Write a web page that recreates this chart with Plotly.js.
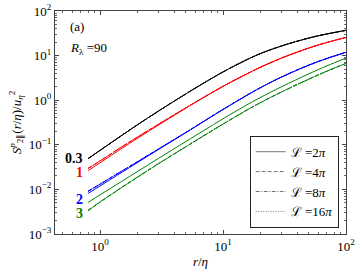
<!DOCTYPE html>
<html><head><meta charset="utf-8">
<script src="https://cdn.plot.ly/plotly-3.0.1.min.js"></script>
<style>html,body{margin:0;padding:0;background:#fff}#c{width:360px;height:271px}</style>
</head><body><div id="c"></div>
<script>
const r = [0.8, 1, 1.5, 2, 3, 5, 7, 10, 15, 20, 30, 50, 70, 100];
// p = 0.3 (black), all box sizes overlap
const s03 = [0.049, 0.075, 0.162, 0.277, 0.575, 1.39, 2.44, 4.3, 7.67, 11.0, 16.5, 24.8, 30.6, 36.8];
// p = 1 (red)
const s1_2pi = [0.0263, 0.0395, 0.0826, 0.138, 0.279, 0.665, 1.16, 2.04, 3.67, 5.42, 8.81, 14.8, 19.7, 25.5];
const s1_big = [0.0295, 0.0435, 0.0895, 0.147, 0.291, 0.676, 1.17, 2.05, 3.68, 5.44, 8.85, 14.85, 19.75, 25.6];
// p = 2 (blue)
const s2_2pi = [0.00813, 0.01194, 0.0240, 0.0394, 0.0791, 0.188, 0.336, 0.617, 1.20, 1.88, 3.31, 6.11, 8.61, 11.8];
const s2_big = [0.0091, 0.0131, 0.0257, 0.0412, 0.0810, 0.190, 0.339, 0.622, 1.21, 1.89, 3.33, 6.14, 8.65, 11.85];
// p = 3 (green)
const s3_2pi = [0.00513, 0.00753, 0.0151, 0.0248, 0.0499, 0.119, 0.210, 0.383, 0.738, 1.14, 2.01, 3.92, 5.9, 8.8];
const s3_4pi = [0.00331, 0.00515, 0.0110, 0.0184, 0.0378, 0.0902, 0.160, 0.290, 0.560, 0.867, 1.53, 2.97, 4.48, 6.67];
const s3_8pi = [0.00340, 0.00524, 0.0111, 0.0187, 0.0383, 0.0912, 0.162, 0.293, 0.565, 0.875, 1.54, 2.99, 4.51, 6.72];
const s3_16pi = [0.00335, 0.00519, 0.0110, 0.0185, 0.0380, 0.0906, 0.161, 0.291, 0.562, 0.870, 1.535, 2.98, 4.49, 6.70];

const xTickVals = [1, 10, 100];
const xTickText = ['10<sup>0</sup>', '10<sup>1</sup>', '10<sup>2</sup>'];
const yTickVals = [0.001, 0.01, 0.1, 1, 10, 100];
const yTickText = ['10<sup>−3</sup>', '10<sup>−2</sup>', '10<sup>−1</sup>', '10<sup>0</sup>', '10<sup>1</sup>', '10<sup>2</sup>'];

const legendNames = ['ℒ =2<i>π</i>', 'ℒ =4<i>π</i>', 'ℒ =8<i>π</i>', 'ℒ =16<i>π</i>'];
const dashes = ['solid', '4px,2px', '4px,1.5px,1px,1.5px', '1px,1.5px'];
const pLabels = ['0.3', '1', '2', '3'];
const colors = ['#000000', '#ff0000', '#0000ff', '#008000'];

const series = [
  [s03, s03, s03, s03],
  [s1_2pi, s1_big, s1_big, s1_big],
  [s2_2pi, s2_big, s2_big, s2_big],
  [s3_2pi, s3_4pi, s3_8pi, s3_16pi]
];

const traces = [];
series.forEach((grp, gi) => {
  grp.forEach((ys, li) => {
    traces.push({x: r, y: ys, type: 'scatter', mode: 'lines', showlegend: false,
      line: {color: colors[gi], width: 1, dash: dashes[li], shape: 'spline', smoothing: 1}, hoverinfo: 'skip'});
  });
});
legendNames.forEach((nm, li) => {
  traces.push({x: [null], y: [null], type: 'scatter', mode: 'lines', name: nm, showlegend: true,
    line: {color: '#777', width: 1, dash: dashes[li]}});
});

const labY = [-1.304, -1.616, -2.22, -2.53];
const annotations = pLabels.map((t, i) => ({
  x: -0.122, y: labY[i], xref: 'x', yref: 'y', text: '<b>' + t + '</b>', showarrow: false,
  xanchor: 'right', yanchor: 'middle', font: {family: 'Liberation Serif', size: 14, color: colors[i]}
}));
annotations.push({x: 0.045, y: 0.93, xref: 'paper', yref: 'paper', text: '(a)', showarrow: false,
  xanchor: 'left', yanchor: 'middle', font: {family: 'Liberation Serif', size: 13, color: '#000'}});
annotations.push({x: 0.045, y: 0.834, xref: 'paper', yref: 'paper', text: '<i>R</i><sub>λ</sub> =90', showarrow: false,
  xanchor: 'left', yanchor: 'middle', font: {family: 'Liberation Serif', size: 13, color: '#000'}});

const axBase = {type: 'log', showgrid: false, zeroline: false, showline: true, linecolor: '#444', linewidth: 1,
  mirror: 'allticks', ticks: 'inside', ticklen: 4, tickcolor: '#444', tickmode: 'array',
  tickfont: {family: 'Liberation Serif', size: 13, color: '#000'},
  minor: {ticks: 'inside', ticklen: 2, tickcolor: '#666', dtick: 'D1'}};

const layout = {
  width: 360, height: 271, margin: {l: 55, r: 14, t: 11, b: 37},
  paper_bgcolor: '#fff', plot_bgcolor: '#fff', showlegend: true,
  xaxis: Object.assign({}, axBase, {range: [-0.366, 2], tickvals: xTickVals, ticktext: xTickText,
    title: {text: '<i>r</i>/<i>η</i>', font: {family: 'Liberation Serif', size: 13, color: '#000'}, standoff: 4}}),
  yaxis: Object.assign({}, axBase, {range: [-3, 2], tickvals: yTickVals, ticktext: yTickText,
    title: {text: '<i>S</i><sup><i>p</i></sup><sub>2∥</sub>(<i>r</i>/<i>η</i>)/<i>u</i><sub><i>η</i></sub><sup>2</sup>',
      font: {family: 'Liberation Serif', size: 13, color: '#000'}, standoff: 4}}),
  legend: {x: 0.975, y: 0.028, xanchor: 'right', yanchor: 'bottom', bgcolor: '#fff', bordercolor: '#222', borderwidth: 1,
    font: {family: 'Liberation Serif', size: 13, color: '#000'}, tracegroupgap: 0, itemwidth: 30},
  annotations: annotations
};
Plotly.newPlot('c', traces, layout, {staticPlot: true, displayModeBar: false});
</script></body></html>
